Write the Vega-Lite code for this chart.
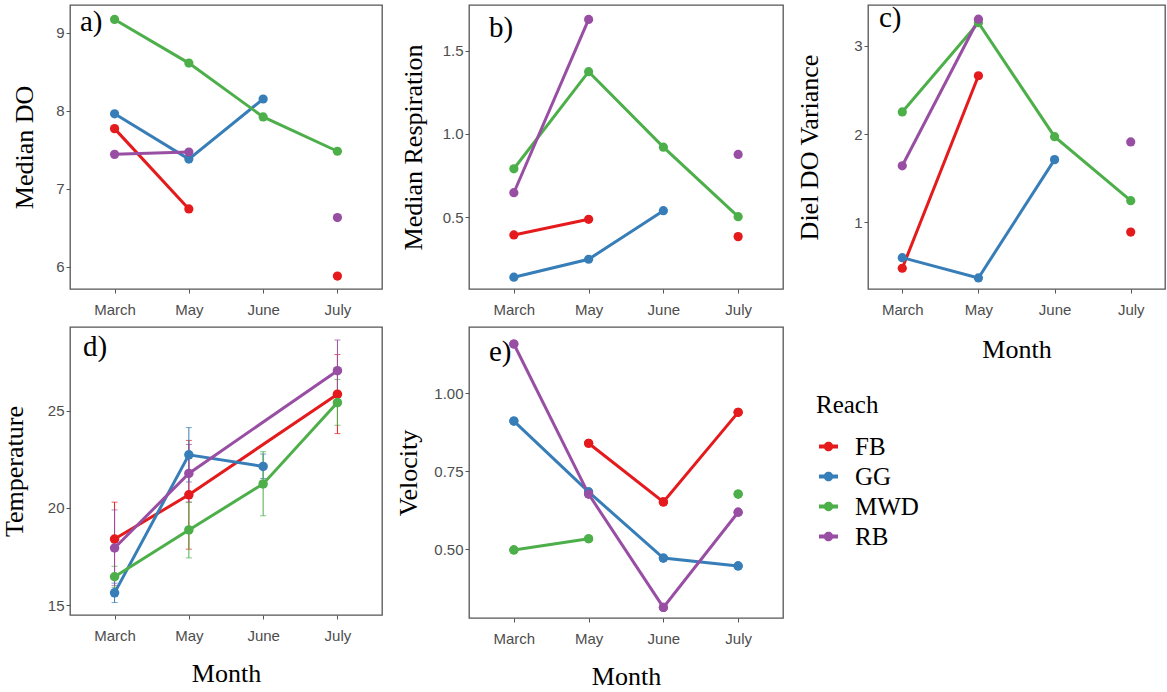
{
  "$schema": "https://vega.github.io/schema/vega-lite/v6.json",
  "background": "white",
  "padding": {"left": 0, "top": 3, "right": 0, "bottom": 0},
  "columns": 3,
  "spacing": {"column": 85, "row": 31},
  "bounds": "flush",
  "align": "all",
  "resolve": {"scale": {"x": "independent", "y": "independent", "color": "shared"}, "legend": {"color": "independent"}},
  "datasets": {
    "do": [
      {"month": "March", "reach": "FB", "seg": "FB1", "value": 7.77},
      {"month": "May", "reach": "FB", "seg": "FB1", "value": 6.74},
      {"month": "July", "reach": "FB", "seg": "FB2", "value": 5.88},
      {"month": "March", "reach": "GG", "seg": "GG1", "value": 7.96},
      {"month": "May", "reach": "GG", "seg": "GG1", "value": 7.38},
      {"month": "June", "reach": "GG", "seg": "GG1", "value": 8.15},
      {"month": "March", "reach": "MWD", "seg": "MWD1", "value": 9.17},
      {"month": "May", "reach": "MWD", "seg": "MWD1", "value": 8.61},
      {"month": "June", "reach": "MWD", "seg": "MWD1", "value": 7.92},
      {"month": "July", "reach": "MWD", "seg": "MWD1", "value": 7.48},
      {"month": "March", "reach": "RB", "seg": "RB1", "value": 7.44},
      {"month": "May", "reach": "RB", "seg": "RB1", "value": 7.47},
      {"month": "July", "reach": "RB", "seg": "RB2", "value": 6.63}
    ],
    "resp": [
      {"month": "March", "reach": "FB", "seg": "FB1", "value": 0.392},
      {"month": "May", "reach": "FB", "seg": "FB1", "value": 0.486},
      {"month": "July", "reach": "FB", "seg": "FB2", "value": 0.382},
      {"month": "March", "reach": "GG", "seg": "GG1", "value": 0.138},
      {"month": "May", "reach": "GG", "seg": "GG1", "value": 0.246},
      {"month": "June", "reach": "GG", "seg": "GG1", "value": 0.538},
      {"month": "March", "reach": "MWD", "seg": "MWD1", "value": 0.79},
      {"month": "May", "reach": "MWD", "seg": "MWD1", "value": 1.374},
      {"month": "June", "reach": "MWD", "seg": "MWD1", "value": 0.92},
      {"month": "July", "reach": "MWD", "seg": "MWD1", "value": 0.502},
      {"month": "March", "reach": "RB", "seg": "RB1", "value": 0.646},
      {"month": "May", "reach": "RB", "seg": "RB1", "value": 1.688},
      {"month": "July", "reach": "RB", "seg": "RB2", "value": 0.876}
    ],
    "var": [
      {"month": "March", "reach": "FB", "seg": "FB1", "value": 0.48},
      {"month": "May", "reach": "FB", "seg": "FB1", "value": 2.66},
      {"month": "July", "reach": "FB", "seg": "FB2", "value": 0.89},
      {"month": "March", "reach": "GG", "seg": "GG1", "value": 0.6},
      {"month": "May", "reach": "GG", "seg": "GG1", "value": 0.37},
      {"month": "June", "reach": "GG", "seg": "GG1", "value": 1.71},
      {"month": "March", "reach": "MWD", "seg": "MWD1", "value": 2.25},
      {"month": "May", "reach": "MWD", "seg": "MWD1", "value": 3.26},
      {"month": "June", "reach": "MWD", "seg": "MWD1", "value": 1.97},
      {"month": "July", "reach": "MWD", "seg": "MWD1", "value": 1.245},
      {"month": "March", "reach": "RB", "seg": "RB1", "value": 1.64},
      {"month": "May", "reach": "RB", "seg": "RB1", "value": 3.3},
      {"month": "July", "reach": "RB", "seg": "RB2", "value": 1.91}
    ],
    "temp": [
      {"month": "March", "reach": "FB", "seg": "FB1", "value": 18.4, "lo": 16.5, "hi": 20.3},
      {"month": "May", "reach": "FB", "seg": "FB1", "value": 20.68, "lo": 17.88, "hi": 23.48},
      {"month": "July", "reach": "FB", "seg": "FB1", "value": 25.86, "lo": 23.83, "hi": 27.9},
      {"month": "March", "reach": "GG", "seg": "GG1", "value": 15.63, "lo": 15.13, "hi": 16.13},
      {"month": "May", "reach": "GG", "seg": "GG1", "value": 22.74, "lo": 21.34, "hi": 24.14},
      {"month": "June", "reach": "GG", "seg": "GG1", "value": 22.14, "lo": 21.52, "hi": 22.78},
      {"month": "March", "reach": "MWD", "seg": "MWD1", "value": 16.46, "lo": 15.9, "hi": 17.0},
      {"month": "May", "reach": "MWD", "seg": "MWD1", "value": 18.87, "lo": 17.43, "hi": 20.3},
      {"month": "June", "reach": "MWD", "seg": "MWD1", "value": 21.24, "lo": 19.6, "hi": 22.9},
      {"month": "July", "reach": "MWD", "seg": "MWD1", "value": 25.43, "lo": 24.26, "hi": 26.62},
      {"month": "March", "reach": "RB", "seg": "RB1", "value": 17.94, "lo": 16.0, "hi": 19.9},
      {"month": "May", "reach": "RB", "seg": "RB1", "value": 21.78, "lo": 20.3, "hi": 23.27},
      {"month": "July", "reach": "RB", "seg": "RB1", "value": 27.07, "lo": 25.5, "hi": 28.65}
    ],
    "vel": [
      {"month": "May", "reach": "FB", "seg": "FB1", "value": 0.84},
      {"month": "June", "reach": "FB", "seg": "FB1", "value": 0.652},
      {"month": "July", "reach": "FB", "seg": "FB1", "value": 0.939},
      {"month": "March", "reach": "GG", "seg": "GG1", "value": 0.911},
      {"month": "May", "reach": "GG", "seg": "GG1", "value": 0.684},
      {"month": "June", "reach": "GG", "seg": "GG1", "value": 0.472},
      {"month": "July", "reach": "GG", "seg": "GG1", "value": 0.447},
      {"month": "March", "reach": "MWD", "seg": "MWD1", "value": 0.498},
      {"month": "May", "reach": "MWD", "seg": "MWD1", "value": 0.534},
      {"month": "July", "reach": "MWD", "seg": "MWD2", "value": 0.677},
      {"month": "March", "reach": "RB", "seg": "RB1", "value": 1.158},
      {"month": "May", "reach": "RB", "seg": "RB1", "value": 0.677},
      {"month": "June", "reach": "RB", "seg": "RB1", "value": 0.314},
      {"month": "July", "reach": "RB", "seg": "RB1", "value": 0.619}
    ]
  },
  "concat": [
    {
      "width": 312, "height": 284,
      "title": {"text": "a)", "offset": -32, "dx": 10},
      "data": {"name": "do"},
      "encoding": {
        "x": {"field": "month", "type": "ordinal", "scale": {"type": "point", "domain": ["March", "May", "June", "July"], "padding": 0.6}, "axis": {"title": null}},
        "y": {"field": "value", "type": "quantitative", "scale": {"domain": [5.714, 9.355], "nice": false, "zero": false}, "axis": {"title": "Median DO", "values": [6, 7, 8, 9], "titlePadding": 18}},
        "color": {"field": "reach", "type": "nominal", "scale": {"domain": ["FB", "GG", "MWD", "RB"], "range": ["#E41A1C", "#377EB8", "#4DAF4A", "#984EA3"]}, "legend": null},
        "detail": {"field": "seg"}
      },
      "layer": [
        {"mark": {"type": "line", "strokeWidth": 3}, "encoding": {"order": {"value": null}}},
        {"mark": {"type": "point", "filled": true, "size": 85, "opacity": 1}}
      ]
    },
    {
      "width": 314, "height": 284,
      "title": {"text": "b)", "offset": -38, "dx": 20},
      "data": {"name": "resp"},
      "encoding": {
        "x": {"field": "month", "type": "ordinal", "scale": {"type": "point", "domain": ["March", "May", "June", "July"], "padding": 0.6}, "axis": {"title": null}},
        "y": {"field": "value", "type": "quantitative", "scale": {"domain": [0.067, 1.775], "nice": false, "zero": false}, "axis": {"title": "Median Respiration", "values": [0.5, 1.0, 1.5], "format": ".1f", "titlePadding": 16}},
        "color": {"field": "reach", "type": "nominal", "scale": {"domain": ["FB", "GG", "MWD", "RB"], "range": ["#E41A1C", "#377EB8", "#4DAF4A", "#984EA3"]}, "legend": null},
        "detail": {"field": "seg"}
      },
      "layer": [
        {"mark": {"type": "line", "strokeWidth": 3}, "encoding": {"order": {"value": null}}},
        {"mark": {"type": "point", "filled": true, "size": 85, "opacity": 1}}
      ]
    },
    {
      "width": 297, "height": 284,
      "title": {"text": "c)", "offset": -28, "dx": 11},
      "data": {"name": "var"},
      "encoding": {
        "x": {"field": "month", "type": "ordinal", "scale": {"type": "point", "domain": ["March", "May", "June", "July"], "padding": 0.45}, "axis": {"title": "Month", "titlePadding": 19}},
        "y": {"field": "value", "type": "quantitative", "scale": {"domain": [0.245, 3.461], "nice": false, "zero": false}, "axis": {"title": "Diel DO Variance", "values": [1, 2, 3], "titlePadding": 31}},
        "color": {"field": "reach", "type": "nominal", "scale": {"domain": ["FB", "GG", "MWD", "RB"], "range": ["#E41A1C", "#377EB8", "#4DAF4A", "#984EA3"]}, "legend": null},
        "detail": {"field": "seg"}
      },
      "layer": [
        {"mark": {"type": "line", "strokeWidth": 3}, "encoding": {"order": {"value": null}}},
        {"mark": {"type": "point", "filled": true, "size": 85, "opacity": 1}}
      ]
    },
    {
      "width": 312, "height": 288,
      "title": {"text": "d)", "offset": -35, "dx": 13},
      "data": {"name": "temp"},
      "encoding": {
        "x": {"field": "month", "type": "ordinal", "scale": {"type": "point", "domain": ["March", "May", "June", "July"], "padding": 0.6}, "axis": {"title": "Month"}},
        "color": {"field": "reach", "type": "nominal", "scale": {"domain": ["FB", "GG", "MWD", "RB"], "range": ["#E41A1C", "#377EB8", "#4DAF4A", "#984EA3"]}, "legend": null},
        "detail": {"field": "seg"}
      },
      "layer": [
        {
          "mark": {"type": "errorbar", "ticks": {"size": 6}, "thickness": 1},
          "encoding": {
            "y": {"field": "lo", "type": "quantitative", "scale": {"domain": [14.49, 29.32], "nice": false, "zero": false}, "axis": {"title": "Temperature", "values": [15, 20, 25], "titlePadding": 20}},
            "y2": {"field": "hi"}
          }
        },
        {
          "mark": {"type": "line", "strokeWidth": 3},
          "encoding": {
            "y": {"field": "value", "type": "quantitative", "scale": {"domain": [14.49, 29.32], "nice": false, "zero": false}, "axis": {"title": "Temperature", "values": [15, 20, 25], "titlePadding": 20}},
            "order": {"value": null}
          }
        },
        {
          "mark": {"type": "point", "filled": true, "size": 90, "opacity": 1},
          "encoding": {
            "y": {"field": "value", "type": "quantitative", "scale": {"domain": [14.49, 29.32], "nice": false, "zero": false}, "axis": {"title": "Temperature", "values": [15, 20, 25], "titlePadding": 20}}
          }
        }
      ]
    },
    {
      "width": 314, "height": 291,
      "title": {"text": "e)", "offset": -40, "dx": 20},
      "data": {"name": "vel"},
      "encoding": {
        "x": {"field": "month", "type": "ordinal", "scale": {"type": "point", "domain": ["March", "May", "June", "July"], "padding": 0.6}, "axis": {"title": "Month"}},
        "y": {"field": "value", "type": "quantitative", "scale": {"domain": [0.28, 1.2125], "nice": false, "zero": false}, "axis": {"title": "Velocity", "values": [0.5, 0.75, 1.0], "format": ".2f", "titlePadding": 12}},
        "color": {"field": "reach", "type": "nominal", "scale": {"domain": ["FB", "GG", "MWD", "RB"], "range": ["#E41A1C", "#377EB8", "#4DAF4A", "#984EA3"]},
          "legend": {"orient": "none", "legendX": 347, "legendY": 66, "title": "Reach", "padding": 0,
            "titleFont": "Liberation Serif", "titleFontSize": 25, "titleFontWeight": "normal", "titleColor": "black", "titlePadding": 16,
            "labelFont": "Liberation Serif", "labelFontSize": 25, "labelColor": "black", "labelOffset": 14,
            "symbolType": "M-1,-0.2L1,-0.2L1,0.2L-1,0.2Z M0.5,0A0.5,0.5,0,1,1,-0.5,0A0.5,0.5,0,1,1,0.5,0Z",
            "symbolSize": 361, "symbolStrokeWidth": 0, "symbolOpacity": 1, "rowPadding": 4}},
        "detail": {"field": "seg"}
      },
      "layer": [
        {"mark": {"type": "point", "filled": true, "size": 85, "opacity": 1}},
        {"mark": {"type": "line", "strokeWidth": 3}, "encoding": {"order": {"value": null}}},
        {"mark": {"type": "point", "filled": true, "size": 85, "opacity": 1}}
      ]
    }
  ],
  "config": {
    "view": {"stroke": "#555555", "strokeWidth": 1.3},
    "title": {"anchor": "start", "frame": "group", "orient": "top", "baseline": "alphabetic", "font": "Liberation Serif", "fontSize": 29, "fontWeight": "normal", "color": "black"},
    "axis": {"domain": false, "grid": false, "tickColor": "#555555", "tickSize": 4, "tickWidth": 1, "labelFont": "Liberation Sans", "labelFontSize": 15, "labelColor": "#4d4d4d", "titleFont": "Liberation Serif", "titleFontSize": 26, "titleFontWeight": "normal", "titleColor": "black"},
    "axisX": {"labelPadding": 9, "titlePadding": 17, "labelAngle": 0},
    "axisY": {"labelPadding": 2}
  }
}
